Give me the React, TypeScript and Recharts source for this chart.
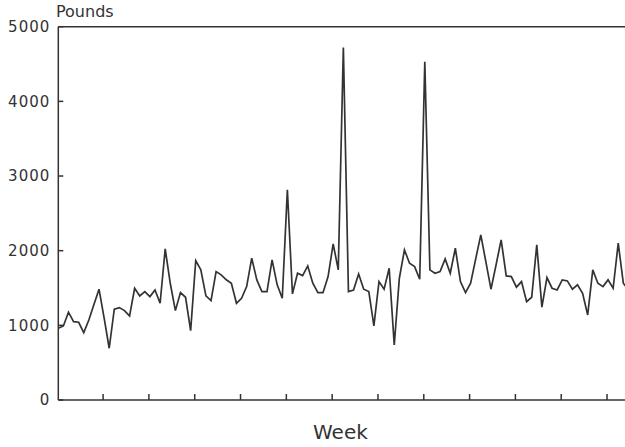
import React from "react";
import { LineChart, Line, XAxis, YAxis, ReferenceLine } from "recharts";

// weekly shipments
const pounds = [
  961, 992, 1176, 1050, 1041, 902, 1072, 1280, 1484, 1100,
  693, 1216, 1238, 1197, 1126, 1497, 1394, 1452, 1385, 1474,
  1296, 2024, 1560, 1197, 1438, 1376, 929, 1867, 1743, 1394,
  1331, 1720, 1676, 1610, 1564, 1296, 1363, 1519, 1899, 1609,
  1452, 1452, 1877, 1542, 1363, 2815, 1421, 1698, 1667, 1796,
  1564, 1438, 1438, 1653, 2091, 1743, 4720, 1452, 1474, 1689,
  1484, 1452, 992, 1586, 1484, 1765, 737, 1631, 2011, 1832,
  1787, 1618, 4530, 1743, 1698, 1720, 1890, 1698, 2033, 1586,
  1438, 1564, 1890, 2212, 1850, 1484, 1810, 2145, 1662, 1653,
  1511, 1586, 1318, 1376, 2078, 1243, 1639, 1497, 1474, 1609,
  1595, 1484, 1542, 1430, 1139, 1743, 1564, 1519, 1609, 1497,
  2100, 1564, 1480,
];

const weekTicks = [8.8, 17.8, 26.8, 35.8, 44.8, 53.8, 62.8, 71.8, 80.8, 89.8, 98.8, 107.8];
const poundTicks = [0, 1000, 2000, 3000, 4000, 5000];

const data = pounds.map((v, i) => ({ week: i, pounds: v }));

const ink = "#333";
const font = "DejaVu Sans, sans-serif";

export default function App() {
  return (
    <div
      style={{
        position: "absolute",
        left: 0,
        top: 0,
        width: 625,
        height: 447,
        overflow: "hidden",
        background: "#fff",
        fontFamily: font,
        color: ink,
      }}
    >
      <div style={{ position: "absolute", left: 56, top: 2, fontSize: 16 }}>Pounds</div>
      <div style={{ position: "absolute", left: 313, top: 420, fontSize: 20 }}>Week</div>
      <LineChart
        width={640}
        height={447}
        data={data}
        margin={{ top: 26.7, right: 6.5, bottom: 17, left: 0 }}
      >
        <XAxis
          dataKey="week"
          type="number"
          domain={[0, 113]}
          ticks={weekTicks}
          tickFormatter={() => ""}
          tickSize={-6}
          height={30}
          stroke={ink}
          strokeWidth={1.5}
          allowDataOverflow
        />
        <YAxis
          domain={[0, 5000]}
          ticks={poundTicks}
          width={58.3}
          tickSize={-5}
          tickMargin={13}
          stroke={ink}
          strokeWidth={1.5}
          tick={{ fill: ink, fontSize: 15, fontFamily: font, letterSpacing: 1 }}
        />
        <ReferenceLine y={5000} stroke={ink} strokeWidth={1.5} />
        <Line
          dataKey="pounds"
          stroke={ink}
          strokeWidth={1.7}
          dot={false}
          isAnimationActive={false}
        />
      </LineChart>
    </div>
  );
}
